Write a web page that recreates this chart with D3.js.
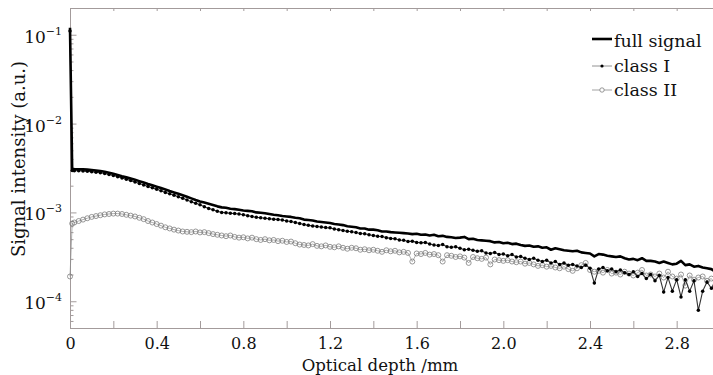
<!DOCTYPE html>
<html>
<head>
<meta charset="utf-8">
<script src="https://cdn.jsdelivr.net/npm/d3@7.9.0/dist/d3.min.js"></script>
<style>
  html, body { margin: 0; padding: 0; background: #fff; }
  svg { display: block; font-family: "DejaVu Serif", serif; }
  .axis path, .axis line { stroke: #a39b9b; }
</style>
</head>
<body>
<svg id="chart" width="713" height="375"></svg>
<script>
// optical depth (mm)
const depth = [0, 0.01,
  0.02, 0.04, 0.06, 0.08, 0.10, 0.12, 0.14, 0.16, 0.18, 0.20,
  0.22, 0.24, 0.26, 0.28, 0.30, 0.32, 0.34, 0.36, 0.38, 0.40,
  0.42, 0.44, 0.46, 0.48, 0.50, 0.52, 0.54, 0.56, 0.58, 0.60,
  0.62, 0.64, 0.66, 0.68, 0.70, 0.72, 0.74, 0.76, 0.78, 0.80,
  0.82, 0.84, 0.86, 0.88, 0.90, 0.92, 0.94, 0.96, 0.98, 1.00,
  1.02, 1.04, 1.06, 1.08, 1.10, 1.12, 1.14, 1.16, 1.18, 1.20,
  1.22, 1.24, 1.26, 1.28, 1.30, 1.32, 1.34, 1.36, 1.38, 1.40,
  1.42, 1.44, 1.46, 1.48, 1.50, 1.52, 1.54, 1.56, 1.58, 1.60,
  1.62, 1.64, 1.66, 1.68, 1.70, 1.72, 1.74, 1.76, 1.78, 1.80,
  1.82, 1.84, 1.86, 1.88, 1.90, 1.92, 1.94, 1.96, 1.98, 2.00,
  2.02, 2.04, 2.06, 2.08, 2.10, 2.12, 2.14, 2.16, 2.18, 2.20,
  2.22, 2.24, 2.26, 2.28, 2.30, 2.32, 2.34, 2.36, 2.38, 2.40,
  2.42, 2.44, 2.46, 2.48, 2.50, 2.52, 2.54, 2.56, 2.58, 2.60,
  2.62, 2.64, 2.66, 2.68, 2.70, 2.72, 2.74, 2.76, 2.78, 2.80,
  2.82, 2.84, 2.86, 2.88, 2.90, 2.92, 2.94, 2.96, 2.98, 3.00];

// signal intensity, in units of 1e-5 a.u.
const fullSignal = [12000, 308,
  307, 306, 305, 303, 300, 297, 293, 287, 280, 272,
  264, 256, 249, 241, 233, 225, 217, 209, 202, 195,
  188, 181, 174, 168, 162, 156, 150, 144, 138, 133,
  129, 125, 121, 117, 114, 113, 110, 109, 107, 105,
  104, 103, 100, 99, 98, 96, 94, 93, 91, 90,
  89, 87, 86, 83, 82, 81, 79, 78, 77, 76,
  74, 73, 72, 70, 69, 68, 66, 66, 64, 64,
  63, 61, 61, 60, 59.5, 59, 58.5, 58, 57, 57.5,
  56, 56.5, 55, 56, 54, 54.5, 53, 52.5, 51.5, 52,
  53, 50, 50.5, 49, 48.5, 48, 47.5, 46, 46.5, 45,
  45.5, 44, 44.5, 43, 42, 42.5, 41, 41.5, 40, 40.5,
  38, 39.5, 38.5, 37.5, 37, 36.5, 37, 35.5, 35, 34.5,
  32, 34, 33.5, 32.5, 32, 31.5, 32, 30.5, 29.5, 30,
  29, 30.5, 28.5, 28.5, 28, 27, 28, 27, 26, 26.5,
  28.5, 25.5, 26, 24.5, 25, 24, 23.5, 23, 21.5, 22.5];

const classI = [11000, 296,
  295, 294, 292, 290, 287, 284, 280, 274, 267, 260,
  252, 244, 236, 228, 220, 212, 204, 196, 189, 182,
  175, 168, 162, 156, 150, 144, 138, 132, 127, 122,
  116, 111, 107, 103, 100, 99, 98, 97, 96, 94,
  92, 90, 88, 87, 86, 85, 84, 83, 82, 80,
  79, 77, 75, 73, 71.5, 70.5, 69.5, 68.5, 67.5, 67,
  65, 64, 62.5, 61.5, 60.5, 59.5, 58, 57.5, 56, 55,
  54, 53.5, 52, 51, 50.5, 49, 48.5, 47, 47.5, 46,
  45.5, 46, 44, 43, 42.5, 43.5, 41, 40.5, 41, 39.5,
  38, 38.5, 37.5, 36.5, 37, 35, 34.5, 35.5, 33.5, 34,
  32.5, 33.5, 31.5, 32, 30.5, 29.5, 30.5, 29, 28, 29,
  27, 28, 26, 27, 25.5, 26, 25, 24, 25.5, 23.5,
  16, 23, 24, 22, 23, 21.5, 22.5, 21, 20, 21.5,
  19, 20.5, 18, 20, 17, 19.5, 12.7, 18.5, 13, 17.5,
  11.2, 17.5, 13, 17, 7.9, 13, 16.5, 14, 17, 15];

const classII = [19, 75,
  77, 80, 83, 86, 89, 91, 93, 95, 96, 97,
  97, 96, 94, 92, 90, 87, 84, 80, 77, 74,
  71, 68, 66, 64, 62.5, 61, 60.5, 60, 61, 59.5,
  60, 58.5, 57, 56, 55, 54, 55, 53, 52, 52.5,
  51, 52, 50, 49, 50, 48.5, 49, 47.5, 48, 46.5,
  47, 45, 43.5, 43, 42.5, 44, 42, 41.5, 42.5, 41,
  40.5, 41.5, 40, 39, 40, 39.5, 38, 38.5, 37.5, 38,
  37, 36, 37.5, 36.5, 37, 35.5, 36, 35, 28, 34.5,
  34, 35, 33.5, 34, 33, 28, 33, 32.5, 31.5, 32,
  31, 27, 31.5, 30.5, 30, 31, 26, 29.5, 29, 28.5,
  29, 28, 27.5, 28, 26.5, 27, 26, 25, 25.5, 24.5,
  25, 24, 23.5, 24.5, 23, 22, 23.5, 25.5, 27, 22.5,
  21.5, 22, 21, 22.5, 20.5, 21, 20, 21.5, 20.5, 19.5,
  21, 22.5, 19.5, 20, 19, 20.5, 18.5, 21.5, 19, 18,
  20, 15, 19.5, 17.5, 18.5, 19, 17, 18, 15.5, 18];

const xTicks = [0, 0.2, 0.4, 0.6, 0.8, 1.0, 1.2, 1.4, 1.6, 1.8, 2.0, 2.2, 2.4, 2.6, 2.8, 3.0];
const xLabels = [0, 0.4, 0.8, 1.2, 1.6, 2.0, 2.4, 2.8];
const yMajor = [1e-1, 1e-2, 1e-3, 1e-4];
const yExp = ['\u22121', '\u22122', '\u22123', '\u22124'];
const legendNames = ['full signal', 'class I', 'class II'];

const unit = 1e-5;
const svg = d3.select('#chart');

const x = d3.scaleLinear().domain([0, 3]).range([70, 720]);
const y = d3.scaleLog().domain([5e-5, 0.2]).range([328, 8]);

// minor log ticks
const yMinor = [];
[1e-5, 1e-4, 1e-3, 1e-2, 1e-1].forEach(p => {
  for (let k = 2; k <= 9; k++) {
    const v = k * p;
    if (v >= 5e-5 && v <= 0.2) yMinor.push(v);
  }
});

// top frame line with small ticks
svg.append('g')
  .attr('class', 'axis')
  .attr('transform', 'translate(0,8)')
  .call(d3.axisTop(x).tickValues(xTicks).tickSize(-3).tickFormat(''));

// x axis
const xAxis = svg.append('g')
  .attr('class', 'axis')
  .attr('transform', 'translate(0,328)')
  .call(d3.axisBottom(x)
    .tickValues(xTicks)
    .tickSize(-7)
    .tickPadding(10)
    .tickFormat(d => xLabels.some(v => Math.abs(v - d) < 1e-9) ? (d === 0 ? '0' : d.toFixed(1)) : ''));
xAxis.selectAll('text')
  .attr('fill', '#111')
  .style('font-size', '16px')
  .style('font-family', '"DejaVu Serif", serif');

// y axis, minor ticks
svg.append('g')
  .attr('class', 'axis')
  .attr('transform', 'translate(70,0)')
  .call(d3.axisLeft(y).tickValues(yMinor).tickSize(-3.5).tickFormat(''));

// y axis, major ticks
const yAxis = svg.append('g')
  .attr('class', 'axis')
  .attr('transform', 'translate(70,0)')
  .call(d3.axisLeft(y).tickValues(yMajor).tickSize(-6.5).tickFormat(''));

yAxis.selectAll('.tick').each(function(d, i) {
  const t = d3.select(this).append('text')
    .attr('x', -8)
    .attr('y', 7.5)
    .attr('text-anchor', 'end')
    .attr('fill', '#111')
    .style('font-size', '17px')
    .style('font-family', '"DejaVu Serif", serif');
  t.append('tspan').text('10');
  t.append('tspan')
    .attr('dy', -8)
    .style('font-size', '11px')
    .text(yExp[i]);
});

// axis titles
svg.append('text')
  .attr('x', 380)
  .attr('y', 370.5)
  .attr('text-anchor', 'middle')
  .attr('fill', '#111')
  .style('font-size', '16.6px')
  .text('Optical depth /mm');

svg.append('text')
  .attr('transform', 'translate(25,159) rotate(-90)')
  .attr('text-anchor', 'middle')
  .attr('fill', '#111')
  .style('font-size', '18px')
  .text('Signal intensity (a.u.)');

// series
const rows = depth.map((d, i) => ({
  d,
  full: fullSignal[i] * unit,
  c1: classI[i] * unit,
  c2: classII[i] * unit
}));

const line = key => d3.line()
  .x(r => x(r.d))
  .y(r => y(r[key]));

const plot = svg.append('g');

// class II: thin grey line + open circles
plot.append('path')
  .datum(rows)
  .attr('fill', 'none')
  .attr('stroke', '#8a8a8a')
  .attr('stroke-width', 0.7)
  .attr('d', line('c2'));
plot.append('g')
  .selectAll('circle')
  .data(rows)
  .join('circle')
    .attr('cx', r => x(r.d))
    .attr('cy', r => y(r.c2))
    .attr('r', 2.5)
    .attr('fill', 'none')
    .attr('stroke', '#7d7d7d')
    .attr('stroke-width', 0.8);

// class I: thin dark line + black dots
plot.append('path')
  .datum(rows)
  .attr('fill', 'none')
  .attr('stroke', '#333')
  .attr('stroke-width', 1.1)
  .attr('d', line('c1'));
plot.append('g')
  .selectAll('circle')
  .data(rows)
  .join('circle')
    .attr('cx', r => x(r.d))
    .attr('cy', r => y(r.c1))
    .attr('r', 1.75)
    .attr('fill', '#000');

// full signal: thick black line
plot.append('path')
  .datum(rows)
  .attr('fill', 'none')
  .attr('stroke', '#000')
  .attr('stroke-width', 2.6)
  .attr('stroke-linejoin', 'round')
  .attr('d', line('full'));

// legend
const legend = svg.append('g').attr('transform', 'translate(592,0)');
const legendY = [39, 66, 90];
const legendBase = [46.5, 71.5, 95.5];

legend.append('line')
  .attr('x1', 0).attr('x2', 20)
  .attr('y1', legendY[0]).attr('y2', legendY[0])
  .attr('stroke', '#000').attr('stroke-width', 2.6);
legend.append('line')
  .attr('x1', 0).attr('x2', 20)
  .attr('y1', legendY[1]).attr('y2', legendY[1])
  .attr('stroke', '#777').attr('stroke-width', 0.8);
legend.append('circle')
  .attr('cx', 10).attr('cy', legendY[1]).attr('r', 1.6).attr('fill', '#000');
legend.append('line')
  .attr('x1', 0).attr('x2', 20)
  .attr('y1', legendY[2]).attr('y2', legendY[2])
  .attr('stroke', '#8a8a8a').attr('stroke-width', 0.8);
legend.append('circle')
  .attr('cx', 10).attr('cy', legendY[2]).attr('r', 2.2)
  .attr('fill', '#fff').attr('stroke', '#7d7d7d').attr('stroke-width', 0.8);

legend.selectAll('text.name')
  .data(legendNames)
  .join('text')
    .attr('class', 'name')
    .attr('x', 22)
    .attr('y', (d, i) => legendBase[i])
    .attr('fill', '#111')
    .style('font-size', '17.5px')
    .text(d => d);
</script>
</body>
</html>
